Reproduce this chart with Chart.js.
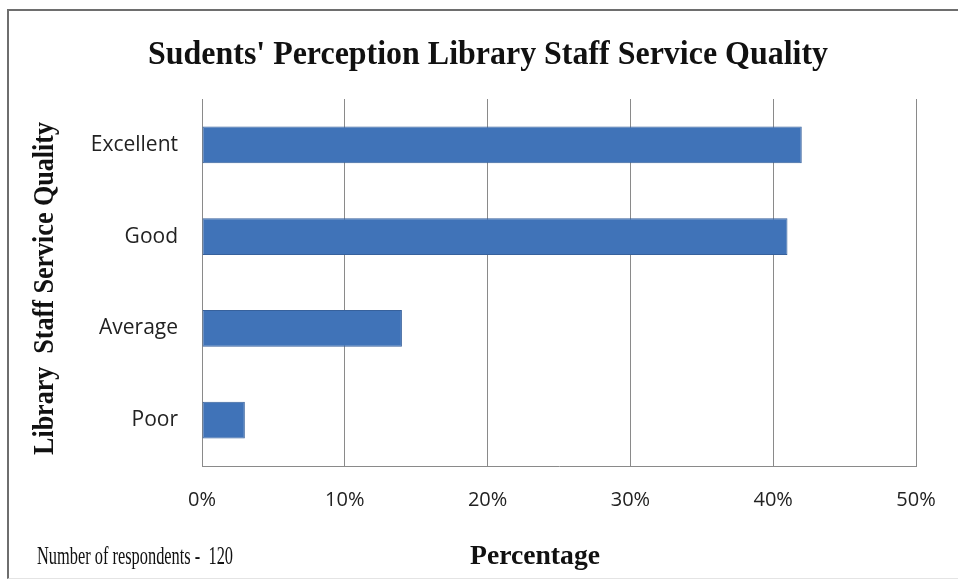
<!DOCTYPE html>
<html>
<head>
<meta charset="utf-8">
<title>Library Staff Service Quality</title>
<script src="https://cdn.jsdelivr.net/npm/chart.js@4.4.1/dist/chart.umd.min.js"></script>
<style>
  html, body { margin: 0; padding: 0; background: #fff; overflow: hidden; }
  #wrap { position: relative; width: 958px; height: 582px; }
  #frame {
    position: absolute; left: 7px; top: 9px; right: -4px; bottom: 3px;
    border-left: 2px solid #6e6e6e; border-top: 2px solid #6e6e6e;
    border-bottom: 1px solid #e4e4e4;
  }
  canvas { position: absolute; left: 0; top: 0; }
</style>
</head>
<body>
<div id="wrap">
  <div id="frame"></div>
  <canvas id="qualityChart" width="958" height="582"></canvas>
</div>
<script>
// rating categories, top to bottom
const categories = ['Excellent', 'Good', 'Average', 'Poor'];
// share of respondents per rating (%)
const percentages = [42, 41, 14, 3];
// x axis ticks (%)
const tickValues = [0, 10, 20, 30, 40, 50];

const chartTitle = "Sudents' Perception Library Staff Service Quality";
const yAxisTitle = 'Library  Staff Service Quality';
const xAxisTitle = 'Percentage';
const respondents = 120;

// draw text squeezed (or stretched) along its baseline to fill a given width
function fitText(ctx, text, x, y, width, font) {
  ctx.save();
  ctx.font = font;
  const natural = ctx.measureText(text).width;
  ctx.translate(x, y);
  ctx.scale(width / natural, 1);
  ctx.fillText(text, 0, 0);
  ctx.restore();
}

const captions = {
  id: 'captions',
  afterDraw(chart) {
    const ctx = chart.ctx;
    ctx.save();
    ctx.fillStyle = '#111';
    ctx.textBaseline = 'alphabetic';
    ctx.textAlign = 'left';

    fitText(ctx, chartTitle, 148, 64, 680, 'bold 34px "Liberation Serif"');

    // rotated axis title
    ctx.save();
    ctx.translate(53, 455);
    ctx.rotate(-Math.PI / 2);
    fitText(ctx, yAxisTitle, 0, 0, 333, 'bold 30px "Liberation Serif"');
    ctx.restore();

    fitText(ctx, 'Number of respondents -  ' + respondents, 37, 564, 196, '25px "Liberation Serif"');
    fitText(ctx, xAxisTitle, 470, 564, 130, 'bold 27px "Liberation Serif"');
    ctx.restore();
  }
};

new Chart(document.getElementById('qualityChart'), {
  type: 'bar',
  data: {
    labels: categories,
    datasets: [{
      data: percentages,
      backgroundColor: '#4073b8',
      borderColor: '#37619c',
      borderWidth: 1,
      borderSkipped: false,
      categoryPercentage: 1,
      barPercentage: 0.4
    }]
  },
  options: {
    indexAxis: 'y',
    responsive: false,
    animation: false,
    layout: { padding: { top: 99, right: 42, left: 0, bottom: 0 } },
    plugins: {
      legend: { display: false },
      title: { display: false },
      tooltip: { enabled: false }
    },
    scales: {
      x: {
        min: 0,
        max: 50,
        afterBuildTicks(scale) {
          scale.ticks = tickValues.map(v => ({ value: v }));
        },
        afterFit(scale) { scale.height = 582 - 99 - 367; },
        ticks: {
          callback: v => v + '%',
          color: '#222',
          font: { family: '"Open Sans"', size: 20 },
          padding: 22,
          maxRotation: 0
        },
        grid: { color: '#8a8a8a', lineWidth: 1, tickLength: 0 },
        border: { display: true, color: '#8a8a8a', width: 1 }
      },
      y: {
        afterFit(scale) { scale.width = 202; },
        ticks: {
          color: '#222',
          font: { family: '"Open Sans"', size: 21 },
          padding: 20
        },
        grid: { display: false, tickLength: 4 },
        border: { display: true, color: '#8a8a8a', width: 1 }
      }
    }
  },
  plugins: [captions]
});
</script>
</body>
</html>
